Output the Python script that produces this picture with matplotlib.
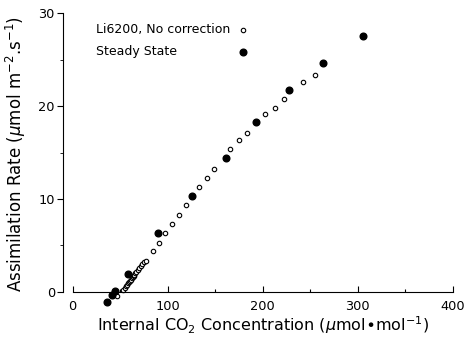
import numpy as np
import matplotlib
matplotlib.use("Agg")
import matplotlib.pyplot as plt
from matplotlib.ticker import MultipleLocator

# Li6200, no correction (open circles)
li_ci = [47, 53, 54.5, 56, 57, 58, 59, 60, 61, 62, 63, 64, 65, 66, 67, 68.5, 70, 71.5, 73, 75, 77,
         84.2, 91.2, 97.5, 104.9, 111.9, 119.6, 133.3, 141.1, 148.4, 165.6, 174.7, 183.5,
         202.7, 213.3, 222.8, 242.1, 254.7]
li_a = [-0.5, 0.2, 0.4, 0.6, 0.75, 0.9, 1.0, 1.15, 1.3, 1.45, 1.55, 1.7, 1.85, 2.0, 2.15, 2.35, 2.55, 2.75, 2.95, 3.15, 3.35,
        4.35, 5.3, 6.3, 7.3, 8.3, 9.3, 11.3, 12.3, 13.2, 15.4, 16.3, 17.1,
        19.1, 19.8, 20.8, 22.6, 23.3]

# steady state (filled circles)
ss_ci = [36.5, 41.4, 44.9, 58.2, 89.8, 125.9, 161.0, 193.3, 228.0, 263.5, 305.9]
ss_a = [-1.1, -0.4, 0.1, 1.9, 6.3, 10.3, 14.4, 18.3, 21.7, 24.6, 27.5]

plt.rcParams['font.family'] = ['DejaVu Sans']

fig = plt.figure(figsize=(4.65, 3.46), dpi=100)
ax = fig.add_axes([0.136, 0.1032, 0.8375, 0.8584])

ax.plot(li_ci, li_a, 'o', ms=3.2, mfc='white', mec='black', mew=0.8, ls='none')
ax.plot(ss_ci, ss_a, 'o', ms=4.8, color='black', ls='none')

ax.set_xlim(-10, 400)
ax.set_ylim(-2, 30)

ax.spines['top'].set_visible(False)
ax.spines['right'].set_visible(False)
ax.spines['bottom'].set_position(('data', 0))
ax.spines['bottom'].set_bounds(0, 400)
ax.spines['left'].set_bounds(0, 30)

ax.xaxis.set_major_locator(MultipleLocator(100))
ax.xaxis.set_minor_locator(MultipleLocator(50))
ax.yaxis.set_major_locator(MultipleLocator(10))
ax.yaxis.set_minor_locator(MultipleLocator(5))
ax.tick_params(axis='x', which='both', direction='in', length=4, width=0.8, labelsize=9.3, pad=6)
ax.tick_params(axis='x', which='minor', length=2.5)
ax.tick_params(axis='y', which='major', direction='out', length=4, width=0.8, labelsize=9.3, pad=2)
ax.tick_params(axis='y', which='minor', direction='out', length=2, width=0.6)

ax.set_xlabel(r'Internal CO$_2$ Concentration ($\mu$mol$\bullet$mol$^{-1}$)', fontsize=11.5)
ax.set_ylabel(r'Assimilation Rate ($\mu$mol m$^{-2}$.s$^{-1}$)', fontsize=12)
ax.xaxis.set_label_coords(0.513, -0.012)
ax.yaxis.set_label_coords(-0.091, 0.526)

# legend, text left aligned, keys on the right
ax.text(0.083, 0.944, 'Li6200, No correction', transform=ax.transAxes, fontsize=9, va='center')
ax.text(0.083, 0.870, 'Steady State', transform=ax.transAxes, fontsize=9, va='center')
ax.plot([0.4615], [0.944], 'o', ms=3.2, mfc='white', mec='black', mew=0.8, transform=ax.transAxes, clip_on=False)
ax.plot([0.4615], [0.870], 'o', ms=4.8, color='black', transform=ax.transAxes, clip_on=False)

fig.savefig("out.png", dpi=100)
